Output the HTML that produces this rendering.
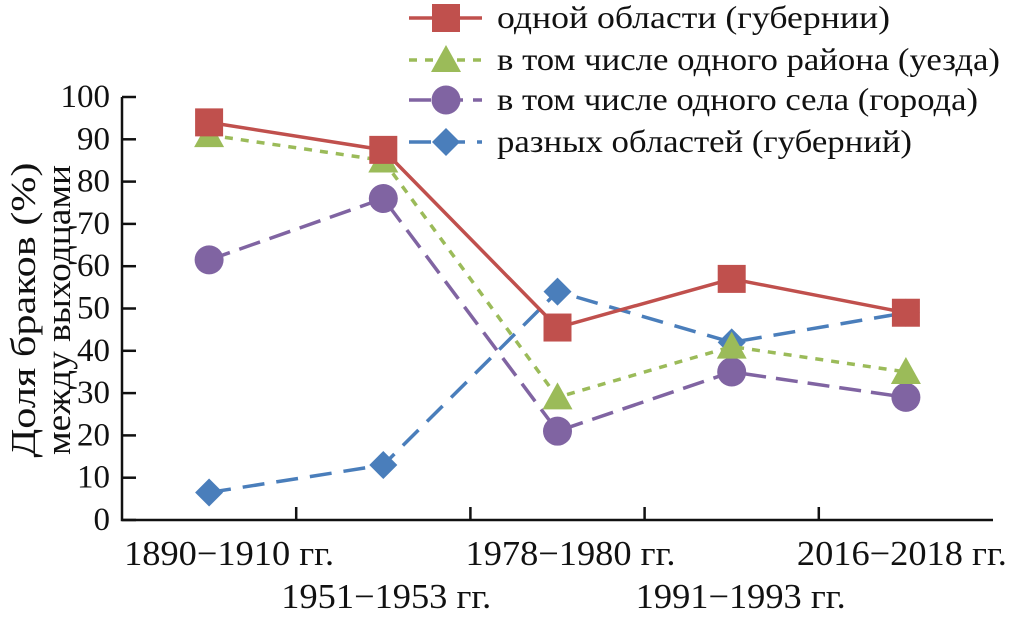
<!DOCTYPE html>
<html><head><meta charset="utf-8"><style>
body{margin:0;background:#fff}
text{font-family:"Liberation Serif","Times New Roman",serif !important;fill:#111}
</style></head><body>
<svg id="chart" width="1010" height="620" xmlns="http://www.w3.org/2000/svg" font-family="Liberation Serif, serif"></svg>
<script>
const categories=["1890–1910 гг.","1951–1953 гг.","1978–1980 гг.","1991–1993 гг.","2016–2018 гг."];
const oblast=[94,87.5,45.5,57,49];
const rayon=[91,85,29,41,35];
const selo=[61.5,76,21,35,29];
const raznye=[6.5,13,54,42,49];
const yTicks=[0,10,20,30,40,50,60,70,80,90,100];
const seriesNames=["одной области (губернии)","в том числе одного района (уезда)","в том числе одного села (города)","разных областей (губерний)"];
const NS="http://www.w3.org/2000/svg";
const svg=document.getElementById('chart');
const X0=122,X1=993,Y0=520,Y1=97;
const step=(X1-X0)/categories.length;
const xs=i=>X0+step*(i+0.5);
const ys=v=>Y0-(v/100)*(Y0-Y1);
const labelShift=[20,3,13,9,-4];
function el(tag,attrs,parent){const e=document.createElementNS(NS,tag);for(const k in attrs)e.setAttribute(k,attrs[k]);if(tag==='text')e.setAttribute('font-family','Liberation Serif, serif');(parent||svg).appendChild(e);return e;}
let a=el('path',{d:`M${X0},${Y1} V${Y0} H${X1}`,stroke:'#111','stroke-width':2.5,fill:'none'});


yTicks.forEach(t=>{
 let l=el('line',{x1:X0,x2:X0+14,y1:ys(t),y2:ys(t),stroke:'#111','stroke-width':2.5});
 
 
 let tx=el('text',{x:X0-12,y:ys(t)+10,'text-anchor':'end','font-size':33});
 tx.textContent=t;
 
 
});
for(let i=1;i<categories.length;i++){
 let l=el('line',{x1:X0+step*i,x2:X0+step*i,y1:Y0,y2:Y0-13,stroke:'#111','stroke-width':2.5});
 
 
}
categories.forEach((c,i)=>{
 let tx=el('text',{x:xs(i)+labelShift[i],y:i%2?608:565,'text-anchor':'middle','font-size':35,textLength:210,lengthAdjust:'spacingAndGlyphs'});
 tx.textContent=c.replace('–','−');
 
 
});
let yl=el('text',{transform:'translate(35,310) rotate(-90)','text-anchor':'middle','font-size':35,textLength:295,lengthAdjust:'spacingAndGlyphs'});
yl.textContent='Доля браков (%)';


let yl2=el('text',{transform:'translate(70,310) rotate(-90)','text-anchor':'middle','font-size':35,textLength:290,lengthAdjust:'spacingAndGlyphs'});
yl2.textContent='между выходцами';


const series=[
 {data:oblast,color:'#c0504d',dash:'',m:'square'},
 {data:rayon,color:'#9bbb59',dash:'8,8',m:'tri'},
 {data:selo,color:'#8064a2',dash:'22,10',m:'circle'},
 {data:raznye,color:'#4a7ebb',dash:'22,12',m:'diamond'}];
function marker(type,x,y,color,name){
 let e;
 if(type==='square')e=el('rect',{x:x-14,y:y-14,width:28,height:28,fill:color});
 else if(type==='tri')e=el('polygon',{points:`${x},${y-15} ${x+15},${y+12} ${x-15},${y+12}`,fill:color});
 else if(type==='circle')e=el('circle',{cx:x,cy:y,r:14.5,fill:color});
 else e=el('polygon',{points:`${x},${y-14} ${x+14},${y} ${x},${y+14} ${x-14},${y}`,fill:color});
 
 
}
[3,2,1,0].forEach(si=>{
 const s=series[si];
 let p=el('polyline',{points:s.data.map((v,i)=>xs(i)+','+ys(v)).join(' '),fill:'none',stroke:s.color,'stroke-width':3.5,'stroke-dasharray':s.dash});
 
 
 s.data.forEach((v,i)=>marker(s.m,xs(i),ys(v),s.color,'series-'+(si+1)+'-point'));
});
const ly=[18,60,100,142];
const legendLen=[393,503,481,415];
series.forEach((s,i)=>{
 let l=el('line',{x1:409,x2:482,y1:ly[i],y2:ly[i],stroke:s.color,'stroke-width':3.5,'stroke-dasharray':s.dash});
 
 
 marker(s.m,446,ly[i],s.color,'legend-marker');
 let t=el('text',{x:497,y:ly[i]+10,'font-size':32,textLength:legendLen[i],lengthAdjust:'spacingAndGlyphs'});
 t.textContent=seriesNames[i];
 
 
});
</script>
</body></html>
